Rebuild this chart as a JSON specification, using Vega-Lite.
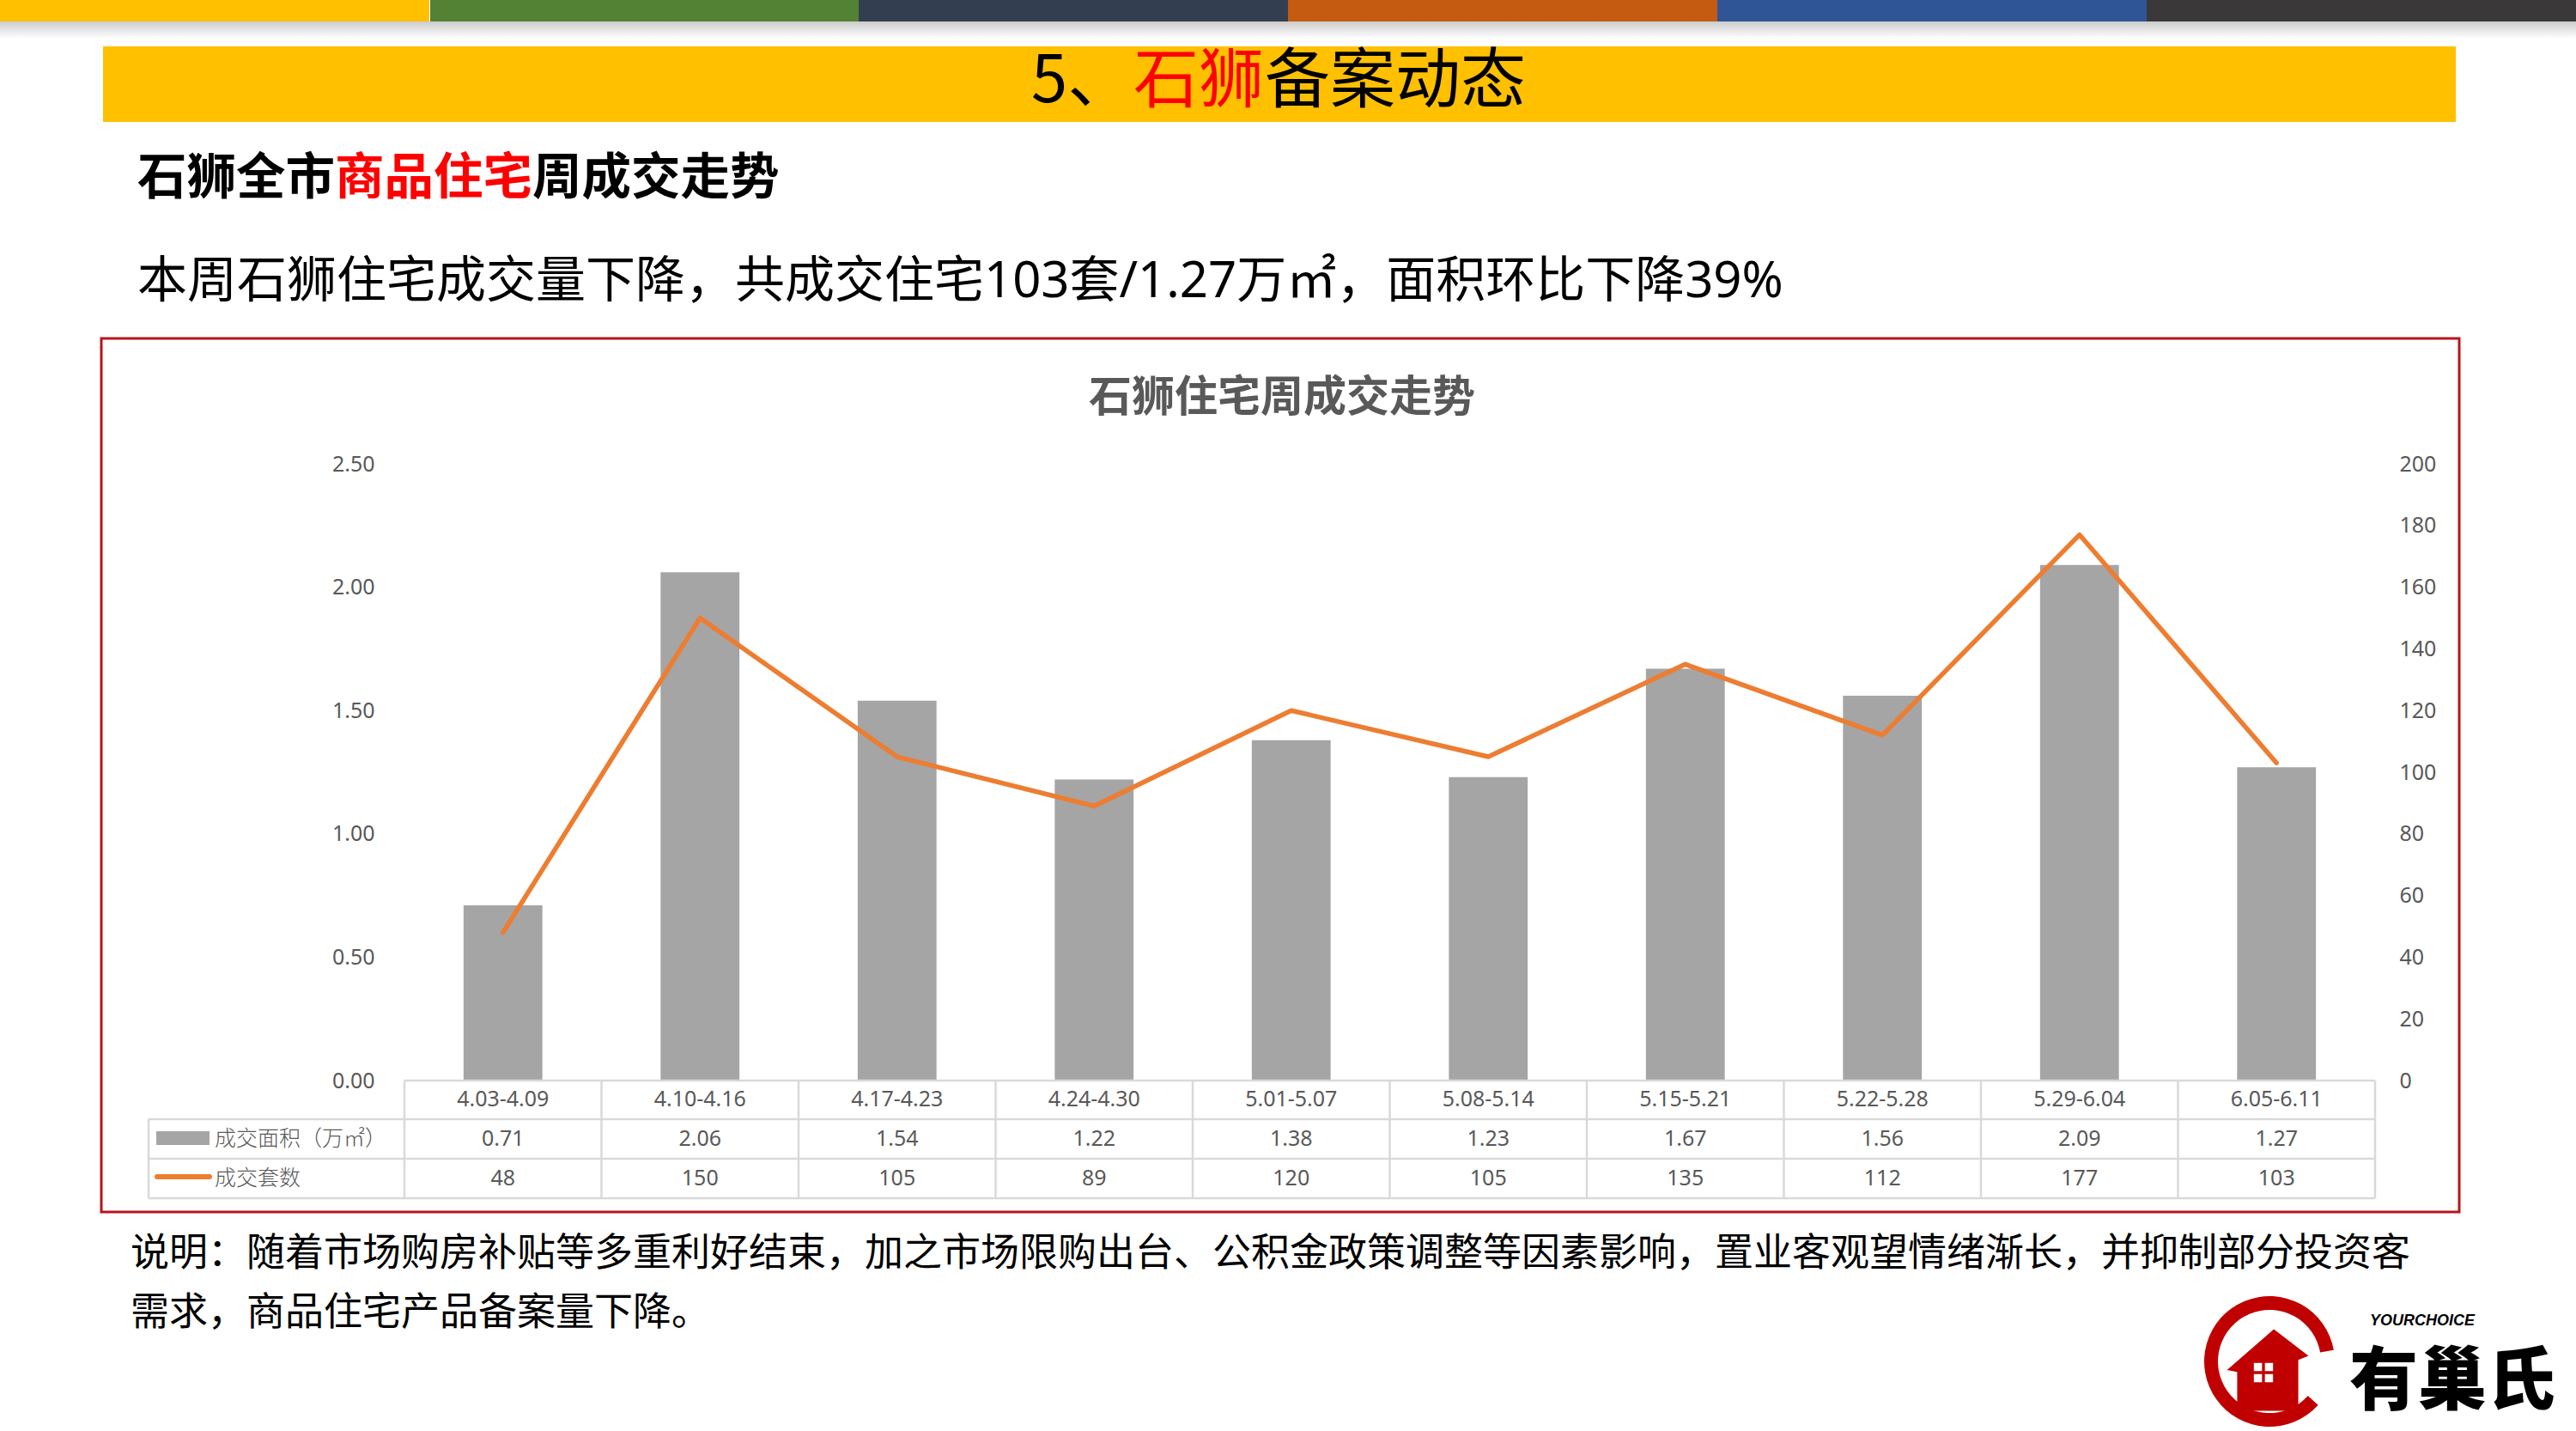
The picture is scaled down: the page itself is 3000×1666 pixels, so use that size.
{
  "$schema": "https://vega.github.io/schema/vega-lite/v6.json",
  "width": 2295,
  "height": 718,
  "autosize": {"type": "none"},
  "padding": {"left": 471, "top": 540, "right": 234, "bottom": 408},
  "background": "white",
  "config": {"view": {"stroke": null}, "font": "Noto Sans CJK SC"},
  "datasets": {
    "weekly": [
      {"week": "4.03-4.09", "area": 0.71, "count": 48},
      {"week": "4.10-4.16", "area": 2.06, "count": 150},
      {"week": "4.17-4.23", "area": 1.54, "count": 105},
      {"week": "4.24-4.30", "area": 1.22, "count": 89},
      {"week": "5.01-5.07", "area": 1.38, "count": 120},
      {"week": "5.08-5.14", "area": 1.23, "count": 105},
      {"week": "5.15-5.21", "area": 1.67, "count": 135},
      {"week": "5.22-5.28", "area": 1.56, "count": 112},
      {"week": "5.29-6.04", "area": 2.09, "count": 177},
      {"week": "6.05-6.11", "area": 1.27, "count": 103}
    ]
  },
  "data": {"name": "weekly"},
  "layer": [
    {"data": {"values": [{}]}, "mark": {"type": "rect", "color": "#FFC000"}, "encoding": {"x": {"value": -471}, "x2": {"value": 29}, "y": {"value": -540}, "y2": {"value": -515}}},
    {"data": {"values": [{}]}, "mark": {"type": "rect", "color": "#548235"}, "encoding": {"x": {"value": 30}, "x2": {"value": 529}, "y": {"value": -540}, "y2": {"value": -515}}},
    {"data": {"values": [{}]}, "mark": {"type": "rect", "color": "#333F50"}, "encoding": {"x": {"value": 529}, "x2": {"value": 1029}, "y": {"value": -540}, "y2": {"value": -515}}},
    {"data": {"values": [{}]}, "mark": {"type": "rect", "color": "#C55A11"}, "encoding": {"x": {"value": 1029}, "x2": {"value": 1529}, "y": {"value": -540}, "y2": {"value": -515}}},
    {"data": {"values": [{}]}, "mark": {"type": "rect", "color": "#2F5597"}, "encoding": {"x": {"value": 1529}, "x2": {"value": 2029}, "y": {"value": -540}, "y2": {"value": -515}}},
    {"data": {"values": [{}]}, "mark": {"type": "rect", "color": "#3A3838"}, "encoding": {"x": {"value": 2029}, "x2": {"value": 2529}, "y": {"value": -540}, "y2": {"value": -515}}},
    {"data": {"values": [{}]}, "mark": {"type": "rect", "fill": {"gradient": "linear", "x1": 0, "y1": 0, "x2": 0, "y2": 1, "stops": [{"offset": 0, "color": "#CCCCCC"}, {"offset": 1, "color": "#FFFFFF"}]}}, "encoding": {"x": {"value": -471}, "x2": {"value": 2529}, "y": {"value": -515}, "y2": {"value": -495}}},
    {"data": {"values": [{}]}, "mark": {"type": "rect", "color": "#FFC000"}, "encoding": {"x": {"value": -351}, "x2": {"value": 2389}, "y": {"value": -486}, "y2": {"value": -398}}},
    {"data": {"values": [{}]}, "mark": {"type": "text", "text": "5、", "align": "left", "baseline": "middle", "fontSize": 76, "color": "#000000"}, "encoding": {"x": {"value": 730}, "y": {"value": -444}}},
    {"data": {"values": [{}]}, "mark": {"type": "text", "text": "石狮", "align": "left", "baseline": "middle", "fontSize": 76, "color": "#FF0000"}, "encoding": {"x": {"value": 849}, "y": {"value": -444}}},
    {"data": {"values": [{}]}, "mark": {"type": "text", "text": "备案动态", "align": "left", "baseline": "middle", "fontSize": 76, "color": "#000000"}, "encoding": {"x": {"value": 1002}, "y": {"value": -444}}},
    {"data": {"values": [{}]}, "mark": {"type": "text", "text": "石狮全市", "align": "left", "baseline": "middle", "fontSize": 57.5, "fontWeight": "bold", "color": "#000000"}, "encoding": {"x": {"value": -311}, "y": {"value": -331}}},
    {"data": {"values": [{}]}, "mark": {"type": "text", "text": "商品住宅", "align": "left", "baseline": "middle", "fontSize": 57.5, "fontWeight": "bold", "color": "#FF0000"}, "encoding": {"x": {"value": -81}, "y": {"value": -331}}},
    {"data": {"values": [{}]}, "mark": {"type": "text", "text": "周成交走势", "align": "left", "baseline": "middle", "fontSize": 57.5, "fontWeight": "bold", "color": "#000000"}, "encoding": {"x": {"value": 149}, "y": {"value": -331}}},
    {"data": {"values": [{}]}, "mark": {"type": "text", "text": "本周石狮住宅成交量下降，共成交住宅103套/1.27万㎡，面积环比下降39%", "align": "left", "baseline": "middle", "fontSize": 58, "font": "Noto Sans, Noto Sans CJK SC", "color": "#000000"}, "encoding": {"x": {"value": -311}, "y": {"value": -211}}},
    {"data": {"values": [{}]}, "mark": {"type": "rect", "filled": false, "color": "#B8141B", "strokeWidth": 3}, "encoding": {"x": {"value": -353}, "x2": {"value": 2393}, "y": {"value": -146}, "y2": {"value": 871}}},
    {"data": {"values": [{}]}, "mark": {"type": "text", "text": "石狮住宅周成交走势", "align": "center", "baseline": "middle", "fontSize": 50, "fontWeight": "bold", "color": "#595959"}, "encoding": {"x": {"value": 1022}, "y": {"value": -76}}},
    {
      "mark": {"type": "bar", "width": {"band": 0.4}, "color": "#A5A5A5"},
      "encoding": {
        "x": {"field": "week", "type": "nominal", "sort": null, "scale": {"paddingInner": 0, "paddingOuter": 0}, "axis": null},
        "y": {"field": "area", "type": "quantitative", "scale": {"domain": [0, 2.5], "nice": false}, "axis": {"orient": "left", "values": [0, 0.5, 1, 1.5, 2, 2.5], "format": ".2f", "title": null, "domain": false, "ticks": false, "tickSize": 0, "grid": false, "labelPadding": 35, "labelFontSize": 25, "labelColor": "#595959", "labelFont": "Noto Sans"}}
      }
    },
    {
      "mark": {"type": "line", "color": "#ED7D31", "strokeWidth": 5.5, "strokeJoin": "round", "strokeCap": "round"},
      "encoding": {
        "x": {"field": "week", "type": "nominal", "sort": null, "axis": null},
        "y": {"field": "count", "type": "quantitative", "scale": {"domain": [0, 200], "nice": false}, "axis": {"orient": "right", "values": [0, 20, 40, 60, 80, 100, 120, 140, 160, 180, 200], "title": null, "domain": false, "ticks": false, "tickSize": 0, "grid": false, "labelPadding": 28, "labelFontSize": 25, "labelColor": "#595959", "labelFont": "Noto Sans"}}
      }
    },
    {
      "mark": {"type": "rule", "color": "#D9D9D9", "strokeWidth": 2.5},
      "encoding": {"x": {"field": "week", "type": "nominal", "sort": null, "bandPosition": 0, "axis": null}, "y": {"value": 718}, "y2": {"value": 855}}
    },
    {"data": {"values": [{}]}, "mark": {"type": "rule", "color": "#D9D9D9", "strokeWidth": 2.5}, "encoding": {"x": {"value": 2295}, "y": {"value": 718}, "y2": {"value": 855}}},
    {"data": {"values": [{}]}, "mark": {"type": "rule", "color": "#D9D9D9", "strokeWidth": 2.5}, "encoding": {"x": {"value": -298}, "y": {"value": 763}, "y2": {"value": 855}}},
    {"data": {"values": [{}]}, "mark": {"type": "rule", "color": "#D9D9D9", "strokeWidth": 2.5}, "encoding": {"x": {"value": 0}, "x2": {"value": 2295}, "y": {"value": 718}}},
    {"data": {"values": [{}]}, "mark": {"type": "rule", "color": "#D9D9D9", "strokeWidth": 2.5}, "encoding": {"x": {"value": -298}, "x2": {"value": 2295}, "y": {"value": 763}}},
    {"data": {"values": [{}]}, "mark": {"type": "rule", "color": "#D9D9D9", "strokeWidth": 2.5}, "encoding": {"x": {"value": -298}, "x2": {"value": 2295}, "y": {"value": 809}}},
    {"data": {"values": [{}]}, "mark": {"type": "rule", "color": "#D9D9D9", "strokeWidth": 2.5}, "encoding": {"x": {"value": -298}, "x2": {"value": 2295}, "y": {"value": 855}}},
    {
      "mark": {"type": "text", "align": "center", "baseline": "middle", "fontSize": 25, "font": "Noto Sans", "color": "#595959"},
      "encoding": {"x": {"field": "week", "type": "nominal", "sort": null, "axis": null}, "y": {"value": 740}, "text": {"field": "week"}}
    },
    {
      "mark": {"type": "text", "align": "center", "baseline": "middle", "fontSize": 25, "font": "Noto Sans", "color": "#595959"},
      "encoding": {"x": {"field": "week", "type": "nominal", "sort": null, "axis": null}, "y": {"value": 786}, "text": {"field": "area", "format": ".2f"}}
    },
    {
      "mark": {"type": "text", "align": "center", "baseline": "middle", "fontSize": 25, "font": "Noto Sans", "color": "#595959"},
      "encoding": {"x": {"field": "week", "type": "nominal", "sort": null, "axis": null}, "y": {"value": 832}, "text": {"field": "count"}}
    },
    {"data": {"values": [{}]}, "mark": {"type": "rect", "color": "#A5A5A5"}, "encoding": {"x": {"value": -289}, "x2": {"value": -227}, "y": {"value": 777}, "y2": {"value": 793}}},
    {"data": {"values": [{}]}, "mark": {"type": "rule", "color": "#ED7D31", "strokeWidth": 6, "strokeCap": "round"}, "encoding": {"x": {"value": -288}, "x2": {"value": -227}, "y": {"value": 830}}},
    {"data": {"values": [{}]}, "mark": {"type": "text", "text": "成交面积（万㎡）", "align": "left", "baseline": "middle", "fontSize": 25, "fontWeight": 300, "color": "#595959"}, "encoding": {"x": {"value": -221}, "y": {"value": 786}}},
    {"data": {"values": [{}]}, "mark": {"type": "text", "text": "成交套数", "align": "left", "baseline": "middle", "fontSize": 25, "fontWeight": 300, "color": "#595959"}, "encoding": {"x": {"value": -221}, "y": {"value": 832}}},
    {"data": {"values": [{}]}, "mark": {"type": "text", "text": "说明：随着市场购房补贴等多重利好结束，加之市场限购出台、公积金政策调整等因素影响，置业客观望情绪渐长，并抑制部分投资客", "align": "left", "baseline": "middle", "fontSize": 45, "color": "#000000"}, "encoding": {"x": {"value": -319}, "y": {"value": 920}}},
    {"data": {"values": [{}]}, "mark": {"type": "text", "text": "需求，商品住宅产品备案量下降。", "align": "left", "baseline": "middle", "fontSize": 45, "color": "#000000"}, "encoding": {"x": {"value": -319}, "y": {"value": 989}}},
    {"data": {"values": [{}]}, "mark": {"type": "arc", "theta": 2.3, "theta2": 7.68, "outerRadius": 76, "innerRadius": 60, "color": "#C00000"}, "encoding": {"x": {"value": 2172}, "y": {"value": 1045}}},
    {"data": {"values": [{}]}, "mark": {"type": "point", "filled": true, "color": "#C00000", "opacity": 1, "size": 9000, "shape": "M -1 0 L 0.15 -1 L 1 -0.35 L 0.75 -0.25 L 0.75 1 L -0.75 1 L -0.75 0.05 Z"}, "encoding": {"x": {"value": 2170}, "y": {"value": 1055}}},
    {"data": {"values": [{}]}, "mark": {"type": "point", "filled": true, "color": "#FFFFFF", "opacity": 1, "size": 500, "shape": "M -1 -1 L -0.15 -1 L -0.15 -0.15 L -1 -0.15 Z M 0.15 -1 L 1 -1 L 1 -0.15 L 0.15 -0.15 Z M -1 0.15 L -0.15 0.15 L -0.15 1 L -1 1 Z M 0.15 0.15 L 1 0.15 L 1 1 L 0.15 1 Z"}, "encoding": {"x": {"value": 2165}, "y": {"value": 1058}}},
    {"data": {"values": [{}]}, "mark": {"type": "text", "text": "YOURCHOICE", "align": "center", "baseline": "middle", "fontSize": 18, "fontStyle": "italic", "fontWeight": "bold", "font": "Liberation Sans", "color": "#000000"}, "encoding": {"x": {"value": 2350}, "y": {"value": 998}}},
    {"data": {"values": [{}]}, "mark": {"type": "text", "text": "有巢氏", "align": "center", "baseline": "middle", "fontSize": 80, "fontWeight": 900, "color": "#000000"}, "encoding": {"x": {"value": 2385}, "y": {"value": 1070}}}
  ],
  "resolve": {"scale": {"y": "independent"}}
}
